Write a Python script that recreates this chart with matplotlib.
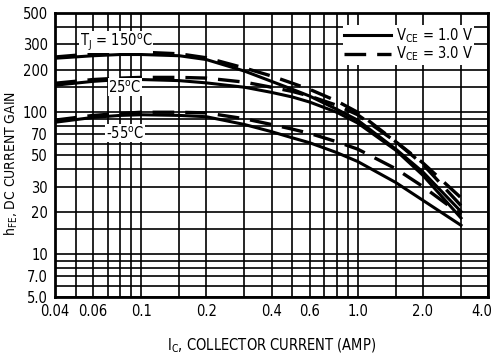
import numpy as np
import matplotlib
matplotlib.use('Agg')
import matplotlib.pyplot as plt
import matplotlib.transforms as mtransforms

plt.rcParams['font.family'] = ['DejaVu Sans']
plt.rcParams['font.stretch'] = 'condensed'
plt.rcParams['mathtext.default'] = 'regular'

# collector current (A)
ic = [0.04, 0.06, 0.08, 0.1, 0.15, 0.2, 0.3, 0.4, 0.5, 0.6, 0.8, 1.0, 1.5, 2.0, 3.0]

# hFE curves
hfe_150_3v = [245, 258, 265, 265, 258, 242, 205, 180, 160, 145, 120, 100, 62, 44, 25]
hfe_150_1v = [240, 250, 255, 255, 250, 235, 195, 165, 145, 130, 105, 88, 55, 38, 20]
hfe_25_3v = [160, 170, 174, 176, 176, 174, 163, 150, 140, 130, 112, 96, 62, 43, 22]
hfe_25_1v = [155, 165, 170, 170, 167, 161, 150, 138, 128, 118, 100, 84, 54, 36, 18]
hfe_m55_3v = [88, 95, 98, 100, 100, 99, 90, 82, 76, 71, 62, 55, 40, 30, 19]
hfe_m55_1v = [85, 92, 95, 96, 95, 93, 82, 73, 66, 61, 52, 45, 32, 24, 16]

xgrid = [0.04, 0.05, 0.06, 0.07, 0.08, 0.09, 0.1, 0.15, 0.2, 0.3, 0.4, 0.5, 0.6, 0.7,
         0.8, 0.9, 1.0, 1.5, 2.0, 3.0, 4.0]
ygrid = [5, 6, 7, 8, 9, 10, 15, 20, 30, 40, 50, 60, 70, 80, 90, 100, 150, 200, 300, 400, 500]
xticks = [0.04, 0.06, 0.1, 0.2, 0.4, 0.6, 1.0, 2.0, 4.0]
xlabels = ['0.04', '0.06', '0.1', '0.2', '0.4', '0.6', '1.0', '2.0', '4.0']
yticks = [5, 7, 10, 20, 30, 50, 70, 100, 200, 300, 500]
ylabels = ['5.0', '7.0', '10', '20', '30', '50', '70', '100', '200', '300', '500']

fig = plt.figure(figsize=(4.94, 3.54), dpi=100)
ax = fig.add_axes([0.1113, 0.161, 0.8766, 0.8023])
ax.set_xscale('log')
ax.set_yscale('log')
ax.set_xlim(0.04, 4.0)
ax.set_ylim(5, 500)

for x in xgrid:
    ax.axvline(x, color='black', lw=1.2, zorder=1)
for y in ygrid:
    ax.axhline(y, color='black', lw=1.2, zorder=1)

dash = (0, (6.5, 3.3))
ax.plot(ic, hfe_150_1v, color='black', lw=2.2, zorder=3, label='$V_{CE}$ = 1.0 V')
ax.plot(ic, hfe_150_3v, color='black', lw=2.4, ls=dash, zorder=3, label='$V_{CE}$ = 3.0 V')
ax.plot(ic, hfe_25_1v, color='black', lw=2.2, zorder=3)
ax.plot(ic, hfe_25_3v, color='black', lw=2.4, ls=dash, zorder=3)
ax.plot(ic, hfe_m55_1v, color='black', lw=2.2, zorder=3)
ax.plot(ic, hfe_m55_3v, color='black', lw=2.4, ls=dash, zorder=3)

fs = 10.5
box = dict(facecolor='white', edgecolor='none', pad=0.5)
ax.text(0.0765, 312, 'T$_J$ = 150$^o$C', fontsize=fs, ha='center', va='center', bbox=box, zorder=4)
ax.text(0.0842, 150, '25$^o$C', fontsize=fs, ha='center', va='center', bbox=box, zorder=4)
ax.text(0.0842, 71, '-55$^o$C', fontsize=fs, ha='center', va='center', bbox=box, zorder=4)

leg = ax.legend(loc='upper right', bbox_to_anchor=(0.985, 0.985), frameon=True, fancybox=False,
                edgecolor='none', framealpha=1, fontsize=fs, handlelength=3.2,
                handletextpad=0.3, borderpad=0.1, labelspacing=0.0)
leg.set_zorder(5)

ax.set_xticks(xticks)
ax.set_xticklabels(xlabels)
ax.set_yticks(yticks)
ax.set_yticklabels(ylabels)
ax.minorticks_off()
ax.tick_params(length=0, labelsize=fs, pad=5)
last = ax.get_xticklabels()[-1]
last.set_transform(last.get_transform() + mtransforms.ScaledTranslation(-6 / 100, 0, fig.dpi_scale_trans))
for s in ax.spines.values():
    s.set_linewidth(2)
ax.set_xlabel('I$_C$, COLLECTOR CURRENT (AMP)', fontsize=fs, labelpad=13)
ax.set_ylabel('h$_{FE}$, DC CURRENT GAIN', fontsize=10)
ax.yaxis.set_label_coords(-0.08, 0.47)

plt.savefig('out.png', dpi=100)
